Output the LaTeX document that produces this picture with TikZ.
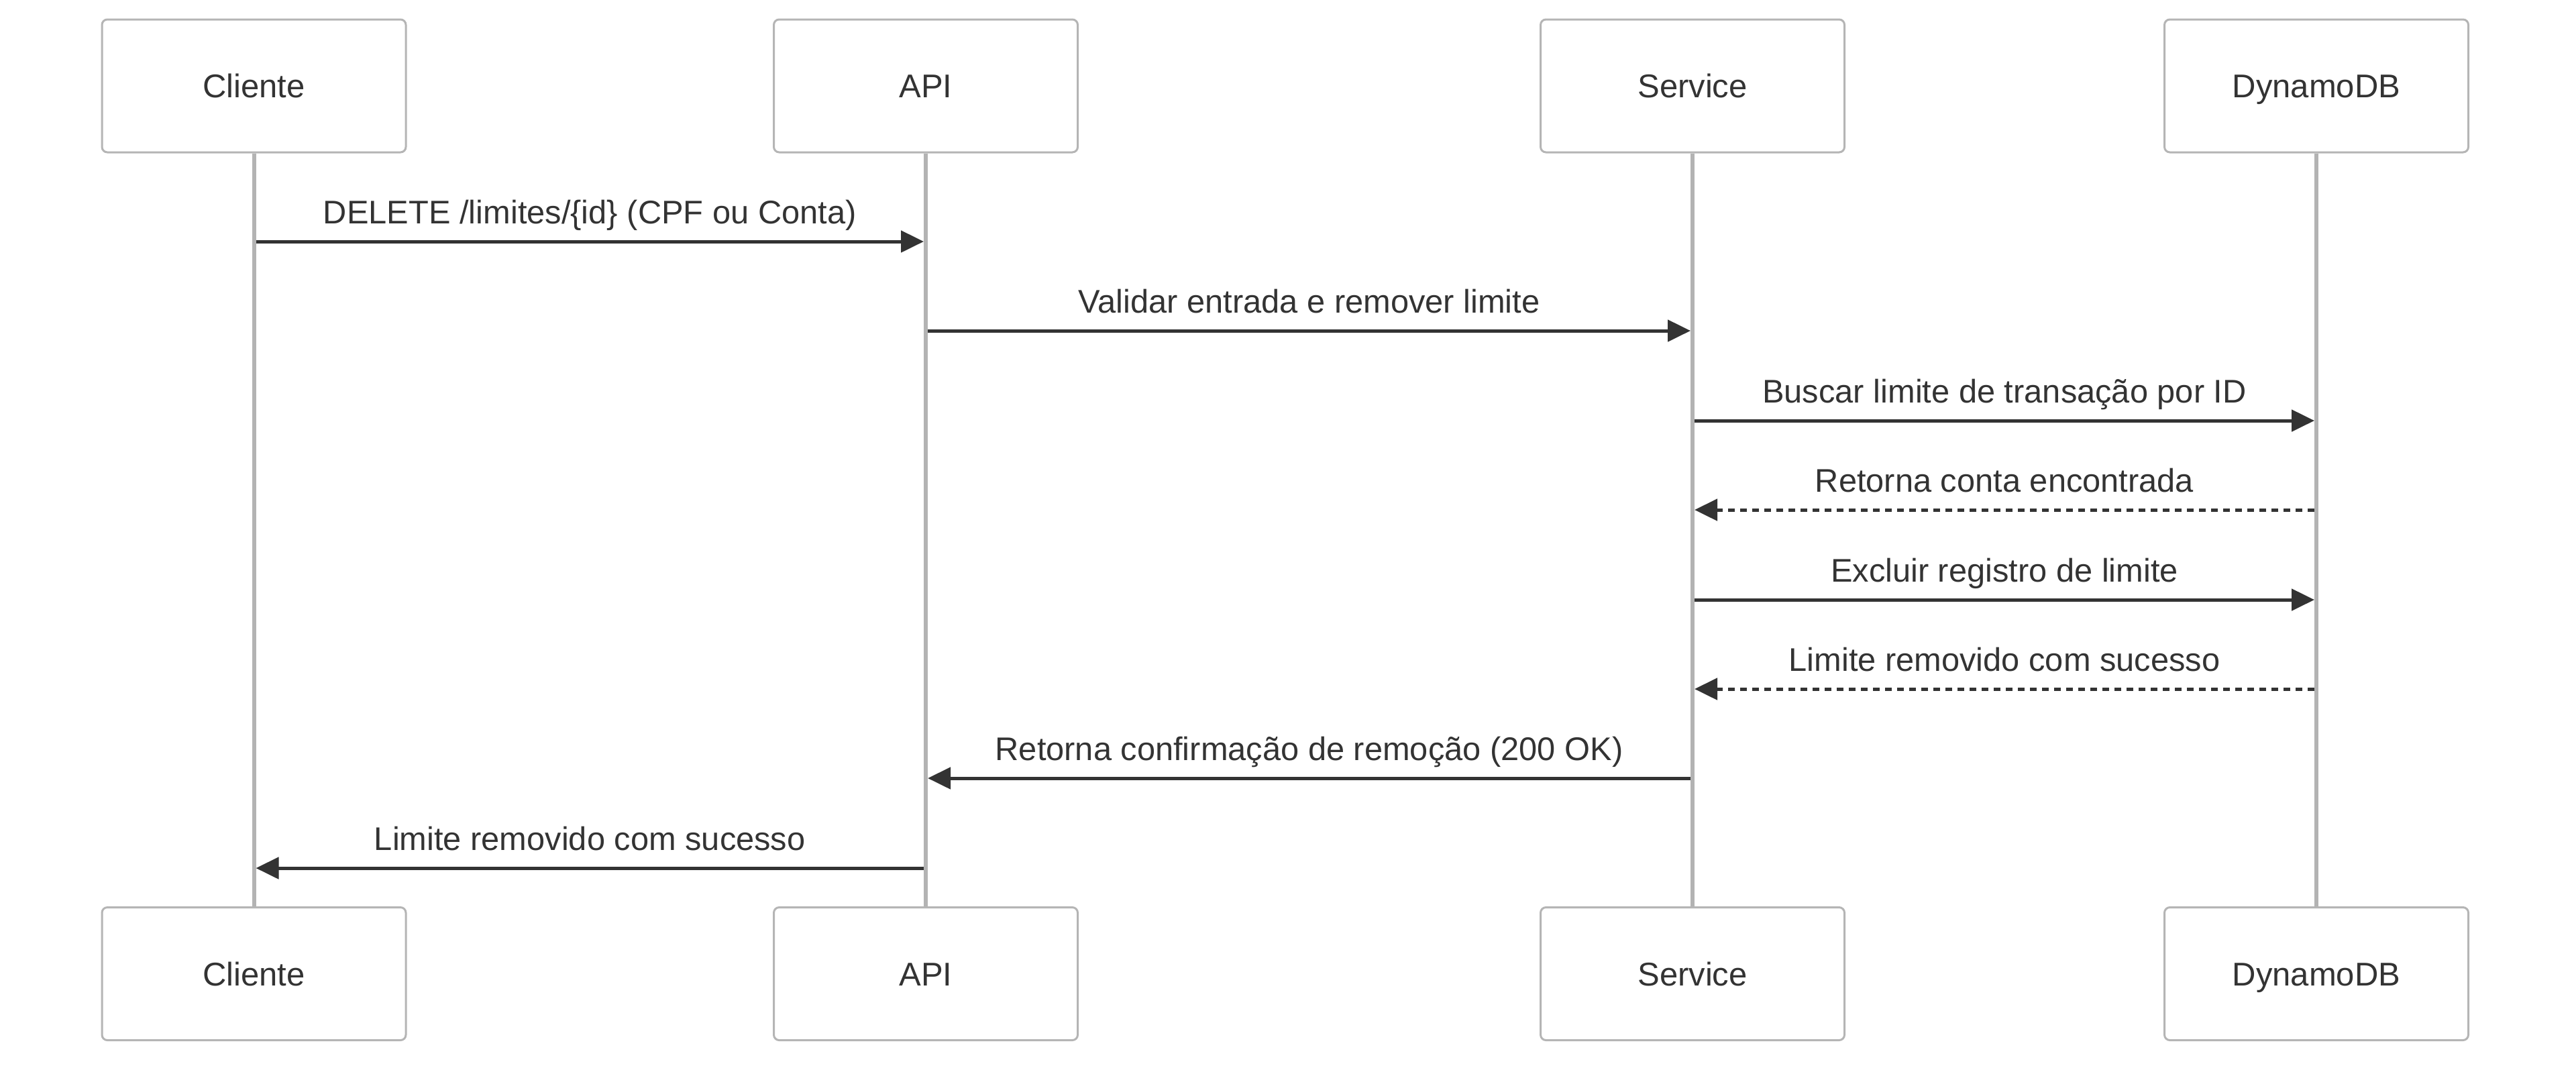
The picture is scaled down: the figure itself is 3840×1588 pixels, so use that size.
\documentclass[tikz,border=0pt]{standalone}
\usepackage{fontspec}
\setmainfont{Liberation Sans}
\usetikzlibrary{arrows.meta,calc}
\definecolor{txt}{HTML}{333333}
\definecolor{life}{HTML}{B3B3B3}
\definecolor{boxb}{HTML}{B5B5B5}
\begin{document}
\begin{tikzpicture}[x=0.25pt,y=-0.25pt,
  actor/.style={draw=boxb, line width=0.75pt, rounded corners=2pt, fill=white,
    minimum width=113.25pt, minimum height=49.5pt, inner sep=0pt, text=txt,
    text height=8.8pt, text depth=0pt,
    font=\fontsize{12.25}{14}\selectfont},
  lifeline/.style={draw=life, line width=1.5pt},
  msg/.style={draw=txt, line width=1.25pt, -{Triangle[length=8.5pt,width=8pt]},
    shorten >=0.75pt, shorten <=0.75pt},
  reply/.style={msg, dash pattern=on 2.5pt off 2pt},
  lbl/.style={text=txt, font=\fontsize{12.2}{14}\selectfont, anchor=base,
    yshift=6.75pt, inner sep=0pt}
]
\useasboundingbox (0,0) rectangle (3840,1588);
% actors
\node[actor] (cliT) at (378.5,128) {Cliente};
\node[actor] (apiT) at (1380,128) {API};
\node[actor] (svcT) at (2523,128) {Service};
\node[actor] (dynT) at (3453,128) {DynamoDB};
\node[actor] (cliB) at (378.5,1451.5) {Cliente};
\node[actor] (apiB) at (1380,1451.5) {API};
\node[actor] (svcB) at (2523,1451.5) {Service};
\node[actor] (dynB) at (3453,1451.5) {DynamoDB};
% lifelines
\draw[lifeline] (cliT.south) -- (cliB.north);
\draw[lifeline] (apiT.south) -- (apiB.north);
\draw[lifeline] (svcT.south) -- (svcB.north);
\draw[lifeline] (dynT.south) -- (dynB.north);
% messages
\draw[msg] (cliT.south |- 0,360) -- node[lbl] {DELETE /limites/\{id\} (CPF ou Conta)} (apiT.south |- 0,360);
\draw[msg] (apiT.south |- 0,493) -- node[lbl] {Validar entrada e remover limite} (svcT.south |- 0,493);
\draw[msg] (svcT.south |- 0,627) -- node[lbl] {Buscar limite de transação por ID} (dynT.south |- 0,627);
\draw[reply] (dynT.south |- 0,760) -- node[lbl] {Retorna conta encontrada} (svcT.south |- 0,760);
\draw[msg] (svcT.south |- 0,894) -- node[lbl] {Excluir registro de limite} (dynT.south |- 0,894);
\draw[reply] (dynT.south |- 0,1027) -- node[lbl] {Limite removido com sucesso} (svcT.south |- 0,1027);
\draw[msg] (svcT.south |- 0,1160) -- node[lbl] {Retorna confirmação de remoção (200 OK)} (apiT.south |- 0,1160);
\draw[msg] (apiT.south |- 0,1294) -- node[lbl] {Limite removido com sucesso} (cliT.south |- 0,1294);
\end{tikzpicture}
\end{document}
